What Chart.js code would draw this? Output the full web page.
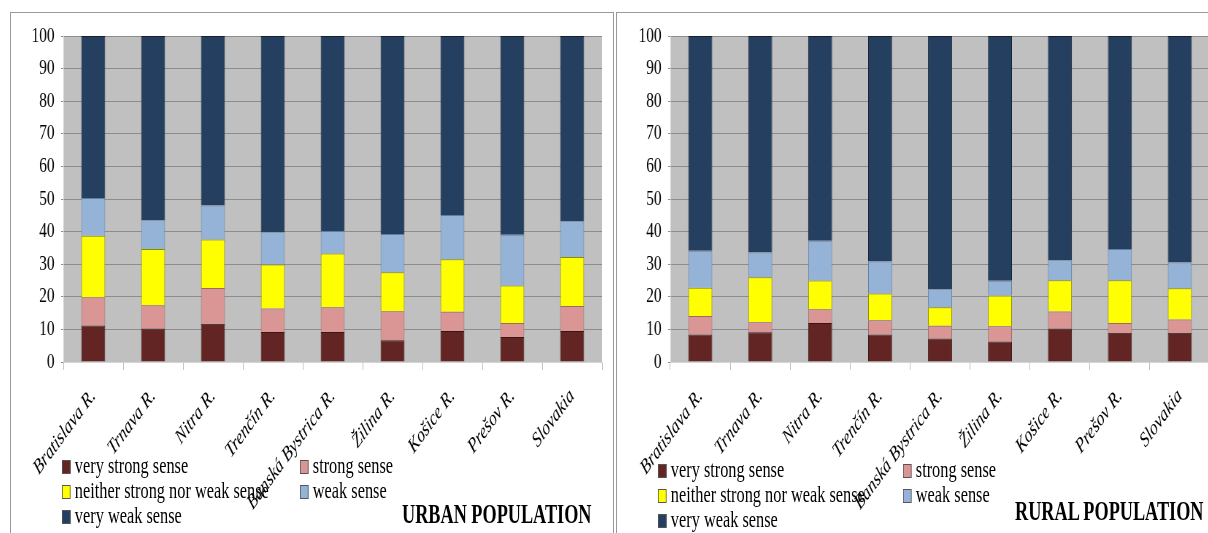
<!DOCTYPE html>
<html>
<head>
<meta charset="utf-8">
<script src="https://cdn.jsdelivr.net/npm/chart.js@4/dist/chart.umd.min.js"></script>
<style>
  html, body { margin: 0; padding: 0; background: #fff; }
  #stage { position: relative; width: 1208px; height: 533px; overflow: hidden; background: #fff; }
  .panel { position: absolute; border: 1px solid #9a9a9a; box-sizing: border-box; }
  .squeeze { position: absolute; transform-origin: 0 0; }
  .legend-item { position: absolute; white-space: nowrap; transform-origin: 0 50%;
                 font-family: "Liberation Serif", "Times New Roman", serif; font-size: 23px; line-height: 23px; color: #000; }
  .legend-item .box { display: inline-block; width: 10px; height: 12px; border: 1px solid #555;
                      vertical-align: -1px; margin-right: 6px; }
  .panel-title { position: absolute; white-space: nowrap; transform-origin: 0 50%;
                 font-family: "Liberation Serif", "Times New Roman", serif; font-weight: bold;
                 font-size: 27px; line-height: 27px; color: #000; }
</style>
</head>
<body>
<div id="stage">
  <div class="panel" style="left:10px; top:12px; width:604px; height:540px;"></div>
  <div class="panel" style="left:616px; top:12px; width:620px; height:540px;"></div>
  <div class="squeeze" id="wrapUrban" style="left:10px; top:12px;"><canvas id="urban" width="827" height="521"></canvas></div>
  <div class="squeeze" id="wrapRural" style="left:617px; top:12px;"><canvas id="rural" width="828" height="521"></canvas></div>
  <div id="legends"></div>
</div>
<script>
// Regions (x axis categories)
const regions = ['Bratislava R.', 'Trnava R.', 'Nitra R.', 'Trenčín R.', 'Banská Bystrica R.',
                 'Žilina R.', 'Košice R.', 'Prešov R.', 'Slovakia'];

// Answer categories, bottom of the stack first
const senseLabels = ['very strong sense', 'strong sense', 'neither strong nor weak sense',
                     'weak sense', 'very weak sense'];
const senseColors = ['#632523', '#d99694', '#ffff00', '#95b3d7', '#243f60'];
const senseBorders = ['#3a1514', '#9c6866', '#8a8a00', '#5f7ea3', '#141f30'];

// y axis ticks (%)
const yTicks = [0, 10, 20, 30, 40, 50, 60, 70, 80, 90, 100];

// Urban population, shares in % per region
const urbanVeryStrong = [11.2, 10.3, 11.7, 9.2, 9.2, 6.7, 9.5, 7.7, 9.5];
const urbanStrong     = [8.7, 7.1, 11.0, 7.2, 7.6, 8.9, 5.9, 4.3, 7.7];
const urbanNeither    = [18.8, 17.3, 14.9, 13.5, 16.5, 11.9, 16.1, 11.5, 15.0];
const urbanWeak       = [11.6, 8.8, 10.4, 9.9, 6.9, 11.8, 13.6, 15.5, 11.0];
const urbanVeryWeak   = [49.7, 56.5, 52.0, 60.2, 59.8, 60.7, 54.9, 61.0, 56.8];

// Rural population, shares in % per region
const ruralVeryStrong = [8.4, 9.1, 12.0, 8.4, 7.2, 6.3, 10.3, 9.0, 9.0];
const ruralStrong     = [5.7, 3.1, 4.2, 4.4, 3.9, 4.7, 5.2, 3.0, 4.0];
const ruralNeither    = [8.7, 13.8, 8.8, 8.2, 5.7, 9.4, 9.6, 13.1, 9.6];
const ruralWeak       = [11.3, 7.6, 12.2, 9.8, 5.5, 4.5, 6.1, 9.6, 7.9];
const ruralVeryWeak   = [65.9, 66.4, 62.8, 69.2, 77.7, 75.1, 68.8, 65.3, 69.5];

const panelTitles = ['URBAN POPULATION', 'RURAL POPULATION'];

// The printed figure is horizontally condensed
const SQUEEZE = 0.73;
document.getElementById('wrapUrban').style.transform = `scaleX(${SQUEEZE})`;
document.getElementById('wrapRural').style.transform = `scaleX(${SQUEEZE})`;

const SERIF = '"Liberation Serif", "Times New Roman", serif';

// grey plotting area behind the bars
const plotBackground = {
  id: 'plotBackground',
  beforeDraw(chart) {
    const { ctx, chartArea: a } = chart;
    ctx.save();
    ctx.fillStyle = '#c0c0c0';
    ctx.fillRect(a.left, a.top, a.right - a.left, a.bottom - a.top);
    ctx.restore();
  }
};

function makeChart(canvasId, seriesList) {
  const datasets = seriesList.map((values, i) => ({
    label: senseLabels[i],
    data: values,
    backgroundColor: senseColors[i],
    borderColor: senseBorders[i],
    borderWidth: 1,
    barPercentage: 0.4,
    categoryPercentage: 1.0
  }));
  return new Chart(document.getElementById(canvasId), {
    type: 'bar',
    data: { labels: regions, datasets },
    plugins: [plotBackground],
    options: {
      responsive: false,
      animation: false,
      events: [],
      layout: { padding: { top: 24, right: 16, left: 0, bottom: 0 } },
      plugins: { legend: { display: false }, tooltip: { enabled: false } },
      scales: {
        x: {
          stacked: true,
          grid: { drawOnChartArea: false, tickLength: 8, color: '#bdbdbd', offset: true },
          border: { color: '#d4d4d4' },
          ticks: {
            autoSkip: false, minRotation: 45, maxRotation: 45, padding: 14, color: '#000',
            font: { family: SERIF, style: 'italic', size: 21 }
          },
          afterFit(scale) { scale.height = 171; }
        },
        y: {
          stacked: true,
          min: yTicks[0],
          max: yTicks[yTicks.length - 1],
          afterBuildTicks(scale) { scale.ticks = yTicks.map(v => ({ value: v })); },
          grid: { color: '#8c8c8c', tickLength: 3 },
          border: { color: '#d4d4d4' },
          ticks: { padding: 9, color: '#000', font: { family: SERIF, size: 21 } },
          afterFit(scale) { scale.width = 73; }
        }
      }
    }
  });
}

const urbanChart = makeChart('urban', [urbanVeryStrong, urbanStrong, urbanNeither, urbanWeak, urbanVeryWeak]);
const ruralChart = makeChart('rural', [ruralVeryStrong, ruralStrong, ruralNeither, ruralWeak, ruralVeryWeak]);

// Legends and panel titles, built from the dataset definitions
const legendHost = document.getElementById('legends');
const LEGEND_SQUEEZE = 0.71;
function addLegend(chart, col1X, col2X, rowY, title, titleX, titleY) {
  const slots = [[col1X, rowY[0]], [col2X, rowY[0]], [col1X, rowY[1]], [col2X, rowY[1]], [col1X, rowY[2]]];
  chart.data.datasets.forEach((ds, i) => {
    const el = document.createElement('div');
    el.className = 'legend-item';
    el.style.left = slots[i][0] + 'px';
    el.style.top = (slots[i][1] - 11.5) + 'px';
    el.style.transform = `scaleX(${LEGEND_SQUEEZE})`;
    const box = document.createElement('span');
    box.className = 'box';
    box.style.background = ds.backgroundColor;
    el.appendChild(box);
    el.appendChild(document.createTextNode(ds.label));
    legendHost.appendChild(el);
  });
  const t = document.createElement('div');
  t.className = 'panel-title';
  t.textContent = title;
  t.style.left = titleX + 'px';
  t.style.top = (titleY - 13.5) + 'px';
  t.style.transform = 'scaleX(0.675)';
  legendHost.appendChild(t);
}
addLegend(urbanChart, 62, 300, [465, 490, 515], panelTitles[0], 402, 514);
addLegend(ruralChart, 658, 903, [469, 494, 519], panelTitles[1], 1015, 511);
</script>
</body>
</html>
